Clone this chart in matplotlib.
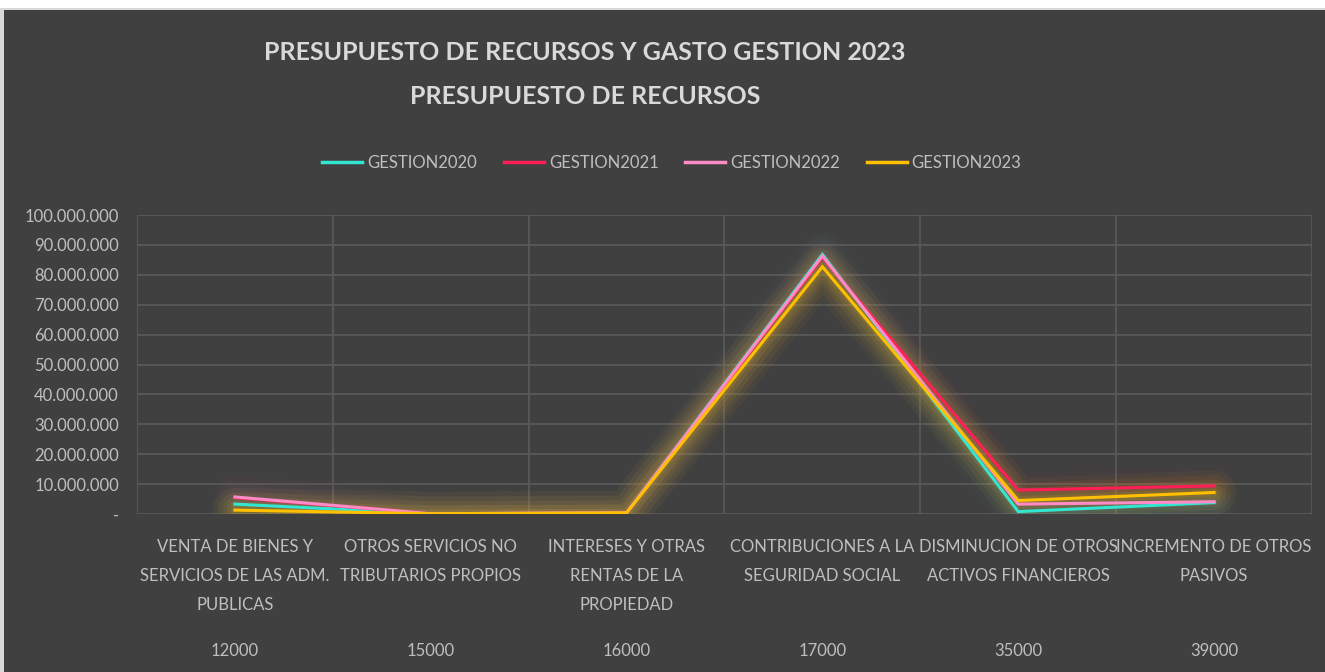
import matplotlib
matplotlib.use("Agg")
import matplotlib.pyplot as plt
from matplotlib.patches import Rectangle
from matplotlib.lines import Line2D
import matplotlib.transforms as mtrans

categories = ["VENTA DE BIENES Y\nSERVICIOS DE LAS ADM.\nPUBLICAS",
              "OTROS SERVICIOS NO\nTRIBUTARIOS PROPIOS",
              "INTERESES Y OTRAS\nRENTAS DE LA\nPROPIEDAD",
              "CONTRIBUCIONES A LA\nSEGURIDAD SOCIAL",
              "DISMINUCION DE OTROS\nACTIVOS FINANCIEROS",
              "INCREMENTO DE OTROS\nPASIVOS"]
codes = ["12000", "15000", "16000", "17000", "35000", "39000"]

series_names = ["GESTION2020", "GESTION2021", "GESTION2022", "GESTION2023"]
gestion2020 = [3300000, 100000, 400000, 86800000, 800000, 3800000]
gestion2021 = [5500000, 100000, 400000, 85800000, 8000000, 9400000]
gestion2022 = [5700000, 100000, 400000, 86300000, 3300000, 4100000]
gestion2023 = [1300000, 100000, 400000, 82700000, 4500000, 7200000]
series_values = [gestion2020, gestion2021, gestion2022, gestion2023]
colors = ["#33E6D2", "#FF1E56", "#FF8CC6", "#FFC000"]
glow_alpha = [0.6, 0.35, 0.35, 1.1]

yticks = list(range(0, 100000001, 10000000))

FONT = ["Lato", "DejaVu Sans"]
plt.rcParams['font.family'] = FONT

W, H = 1325, 672
fig = plt.figure(figsize=(W / 100, H / 100), dpi=100, facecolor="white")
BG = "#404040"
fig.patches.append(Rectangle((0, 0), 1, 1 - 8 / H, transform=fig.transFigure,
                             facecolor="#D9D9D9", edgecolor="none", zorder=-3))
fig.patches.append(Rectangle((4 / W, 0), 1, 1 - 10 / H, transform=fig.transFigure,
                             facecolor=BG, edgecolor="none", zorder=-2))

left, right = 137 / W, 1312 / W
bottom, top = 1 - 514 / H, 1 - 215 / H
ax = fig.add_axes([left, bottom, right - left, top - bottom])
ax.set_facecolor(BG)
ax.patch.set_alpha(0)

x = list(range(len(categories)))
ax.set_xlim(-0.5, len(categories) - 0.5)
ax.set_ylim(0, 100000000)

grid_c = "#595959"
for yv in yticks[1:]:
    ax.axhline(yv, color=grid_c, lw=1.3, zorder=0)
for b in [i - 0.5 for i in range(len(categories) + 1)]:
    ax.axvline(b, color=grid_c, lw=1.3, zorder=0)
ax.axhline(0, color=grid_c, lw=1.3, zorder=0)

for s in ax.spines.values():
    s.set_visible(False)

# glow
for vals, c, ga in zip(series_values, colors, glow_alpha):
    for lw, a in [(32, 0.035), (25, 0.045), (18, 0.055), (12, 0.07), (6, 0.09)]:
        ax.plot(x, vals, color=c, lw=lw, alpha=min(1, a * ga), solid_capstyle="round",
                solid_joinstyle="round", zorder=1)
for vals, c, n in zip(series_values, colors, series_names):
    ax.plot(x, vals, color=c, lw=2.2, zorder=3, label=n, solid_joinstyle="miter")

ax.set_yticks(yticks)
ax.set_yticklabels(["-" if v == 0 else f"{v:,}".replace(",", ".") for v in yticks])
ax.tick_params(axis="y", length=0, pad=13, labelsize=12, labelcolor="#BFBFBF")
ax.set_xticks([])

txt_c = "#BFBFBF"
trans = mtrans.blended_transform_factory(ax.transData, fig.transFigure)
for i, (cat, code) in enumerate(zip(categories, codes)):
    ax.text(i, 1 - 539 / H, cat, transform=trans, ha="center", va="top",
            fontsize=12, color=txt_c, linespacing=2.0)
    ax.text(i, 1 - 651 / H, code, transform=trans, ha="center", va="center",
            fontsize=12, color=txt_c)

fig.text(585 / W, 1 - 52 / H, "PRESUPUESTO DE RECURSOS Y GASTO GESTION 2023",
         ha="center", va="center", fontsize=18, fontweight="bold", color="#D9D9D9")
fig.text(585 / W, 1 - 97 / H, "PRESUPUESTO DE RECURSOS",
         ha="center", va="center", fontsize=18, fontweight="bold", color="#D9D9D9")

handles = [Line2D([0], [0], color=c, lw=2.5) for c in colors]
fig.legend(handles, series_names, loc="center", bbox_to_anchor=(672 / W, 1 - 163 / H),
           ncol=4, frameon=False, fontsize=12, labelcolor=txt_c,
           handlelength=2.4, handletextpad=0.3, columnspacing=1.6)

fig.savefig("out.png", dpi=100, facecolor=fig.get_facecolor())
